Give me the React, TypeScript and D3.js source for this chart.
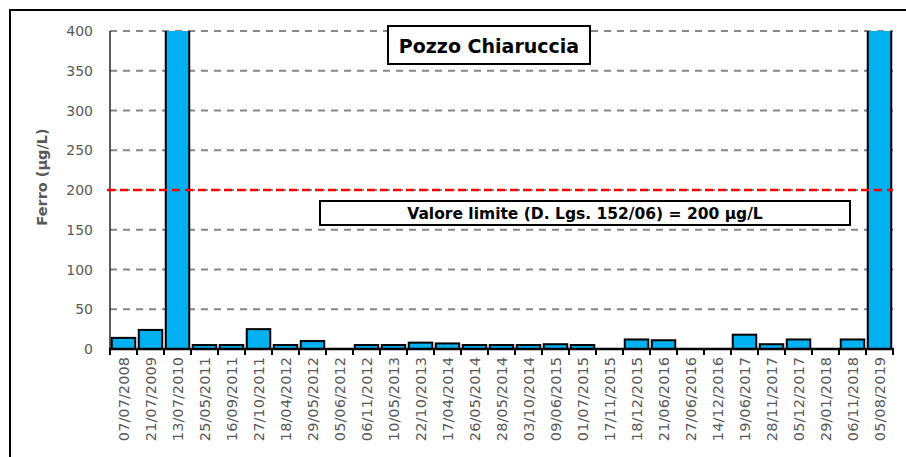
import React from 'react';
import * as d3 from 'd3';

// sampling dates (x categories)
const dates = [
  '07/07/2008', '21/07/2009', '13/07/2010', '25/05/2011', '16/09/2011', '27/10/2011',
  '18/04/2012', '29/05/2012', '05/06/2012', '06/11/2012', '10/05/2013', '22/10/2013',
  '17/04/2014', '26/05/2014', '28/05/2014', '03/10/2014', '09/06/2015', '01/07/2015',
  '17/11/2015', '18/12/2015', '21/06/2016', '27/06/2016', '14/12/2016', '19/06/2017',
  '28/11/2017', '05/12/2017', '29/01/2018', '06/11/2018', '05/08/2019',
];

// Ferro (µg/L); the two large values go off the top of the scale
const ferro = [
  14, 24, 620, 5, 5, 25,
  5, 10, 0, 5, 5, 8,
  7, 5, 5, 5, 6, 5,
  0, 12, 11, 0, 0, 18,
  6, 12, 0, 12, 620,
];

const yTicks = [0, 50, 100, 150, 200, 250, 300, 350, 400];
const limitValue = 200;
const title = 'Pozzo Chiaruccia';
const limitLabel = 'Valore limite (D. Lgs. 152/06) = 200 µg/L';
const yTitle = 'Ferro (µg/L)';

const W = 906;
const H = 457;
const FONT = '"DejaVu Sans", sans-serif';

export default function App() {
  const left = 110;
  const right = 893;
  const top = 31;
  const bottom = 349;

  const x = d3.scaleBand<string>()
    .domain(dates)
    .range([left, right])
    .paddingInner(0.13)
    .paddingOuter(0.065);

  const y = d3.scaleLinear().domain([0, 400]).range([bottom, top]);
  const step = x.step();
  const half = (step - x.bandwidth()) / 2;

  // category boundaries for the tick marks
  const bounds = dates.map(d => (x(d) as number) - half).concat([right]);

  return (
    <div style={{ position: 'absolute', left: 0, top: 0 }}>
      <svg width={W} height={H} style={{ display: 'block', fontFamily: FONT }}>
        <defs>
          <clipPath id="plot">
            <rect x={left} y={top} width={right - left + 2} height={bottom - top} />
          </clipPath>
        </defs>
        <rect x={0} y={0} width={W} height={H} fill="#fff" />
        {/* outer frame, runs off the picture */}
        <rect x={10} y={10} width={W + 40} height={H + 40} fill="none" stroke="#000" strokeWidth={2} />

        {/* gridlines */}
        {yTicks.filter(t => t > 0).map(t => (
          <line key={t} x1={left} x2={right} y1={y(t)} y2={y(t)}
            stroke="#878787" strokeWidth={2} strokeDasharray="7,6" />
        ))}

        {/* y tick labels */}
        {yTicks.map(t => (
          <text key={t} x={93} y={y(t)} dy="0.36em" textAnchor="end" fontSize={14} fill="#595959">{t}</text>
        ))}

        {/* y axis */}
        <line x1={left} x2={left} y1={top} y2={bottom} stroke="#262626" strokeWidth={1.5} />

        {/* bars */}
        <g clipPath="url(#plot)">
          {dates.map((d, i) => ferro[i] > 0 && (
            <rect key={d}
              x={x(d)} width={x.bandwidth()}
              y={y(Math.min(ferro[i], 405))}
              height={bottom - y(Math.min(ferro[i], 405))}
              fill="#00B0F0" stroke="#000" strokeWidth={2} />
          ))}
        </g>

        {/* limit line */}
        <line x1={107} x2={right} y1={y(limitValue)} y2={y(limitValue)}
          stroke="#FF0000" strokeWidth={2.5} strokeDasharray="8,5" />

        {/* x axis */}
        <line x1={left - 1} x2={right + 1} y1={bottom} y2={bottom} stroke="#000" strokeWidth={2.5} />
        {bounds.map((b, i) => (
          <line key={i} x1={b} x2={b} y1={bottom} y2={bottom + 6} stroke="#000" strokeWidth={2} />
        ))}

        {/* x labels */}
        {dates.map(d => {
          const cx = (x(d) as number) + x.bandwidth() / 2;
          return (
            <text key={d} transform={`translate(${cx},${bottom + 8}) rotate(-90)`}
              textAnchor="end" dy="0.36em" fontSize={14.6} fill="#595959">{d}</text>
          );
        })}

        {/* y title */}
        <text transform="translate(42,177) rotate(-90)" textAnchor="middle" dy="0.36em"
          fontSize={14.5} fontWeight="bold" fill="#595959">{yTitle}</text>

        {/* title box */}
        <rect x={388} y={26} width={202} height={38} fill="#fff" stroke="#000" strokeWidth={2} />
        <text x={489} y={53} textAnchor="middle" fontSize={19} fontWeight="bold" fill="#000">{title}</text>

        {/* limit label box */}
        <rect x={320} y={201} width={530} height={24} fill="#fff" stroke="#000" strokeWidth={2} />
        <text x={585} y={219} textAnchor="middle" fontSize={15.5} fontWeight="bold" fill="#000">{limitLabel}</text>
      </svg>
    </div>
  );
}
